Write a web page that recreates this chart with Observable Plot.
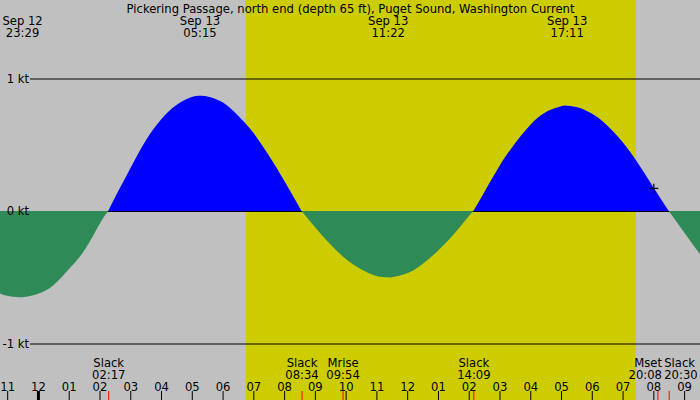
<!DOCTYPE html>
<html><head><meta charset="utf-8">
<script src="https://cdn.jsdelivr.net/npm/d3@7"></script>
<script src="https://cdn.jsdelivr.net/npm/@observablehq/plot@0.6"></script>
<style>body{margin:0;background:#c0c0c0}</style>
</head><body><div id="chart"></div>
<script>
const title = "Pickering Passage, north end (depth 65 ft), Puget Sound, Washington Current";
const curveTimes = ["09-12 22:45","09-12 23:00","09-12 23:29","09-13 00:00","09-13 00:30","09-13 01:00","09-13 01:30","09-13 02:00","09-13 02:17",
  "09-13 02:30","09-13 03:00","09-13 03:30","09-13 04:00","09-13 04:30","09-13 05:00","09-13 05:15","09-13 05:30","09-13 06:00","09-13 06:30",
  "09-13 07:00","09-13 07:30","09-13 08:00","09-13 08:34","09-13 09:00","09-13 09:30","09-13 10:00","09-13 10:30","09-13 11:00","09-13 11:22",
  "09-13 11:30","09-13 12:00","09-13 12:30","09-13 13:00","09-13 13:30","09-13 14:00","09-13 14:09","09-13 14:30","09-13 15:00","09-13 15:30",
  "09-13 16:00","09-13 16:30","09-13 17:00","09-13 17:11","09-13 17:30","09-13 18:00","09-13 18:30","09-13 19:00","09-13 19:30","09-13 20:00",
  "09-13 20:30","09-13 21:00","09-13 21:30","09-13 21:45"];
const curveValues = [-0.62,-0.64,-0.65,-0.625,-0.56,-0.44,-0.30,-0.10,0,
  0.10,0.32,0.53,0.69,0.80,0.86,0.87,0.865,0.82,0.72,
  0.59,0.42,0.23,0,-0.12,-0.25,-0.36,-0.44,-0.49,-0.50,
  -0.50,-0.47,-0.40,-0.30,-0.18,-0.04,0,0.14,0.34,0.51,
  0.65,0.745,0.79,0.795,0.785,0.735,0.645,0.52,0.36,0.18,
  0,-0.16,-0.32,-0.39];
const peakTimes = ["09-12 23:29","09-13 05:15","09-13 11:22","09-13 17:11"];
const peakLabels = ["Sep 12\n23:29","Sep 13\n05:15","Sep 13\n11:22","Sep 13\n17:11"];
const eventTimes = ["09-13 02:17","09-13 08:34","09-13 09:54","09-13 14:09","09-13 20:08","09-13 20:30"];
const eventLabels = ["Slack\n02:17","Slack\n08:34","Mrise\n09:54","Slack\n14:09","Mset\n20:08","Slack\n20:30"];
const hourTimes = ["09-12 23:00","09-13 00:00","09-13 01:00","09-13 02:00","09-13 03:00","09-13 04:00","09-13 05:00","09-13 06:00",
  "09-13 07:00","09-13 08:00","09-13 09:00","09-13 10:00","09-13 11:00","09-13 12:00","09-13 13:00","09-13 14:00","09-13 15:00",
  "09-13 16:00","09-13 17:00","09-13 18:00","09-13 19:00","09-13 20:00","09-13 21:00"];
const hourLabels = ["11","12","01","02","03","04","05","06","07","08","09","10","11","12","01","02","03","04","05","06","07","08","09"];
const daylight = ["09-13 06:45","09-13 19:26"];
const yTicks = [1, 0, -1];
const yLabels = ["1 kt", "0 kt", "-1 kt"];
const nowTime = "09-13 20:00";
const nowValue = 0.175;
const xDomain = ["09-12 22:46","09-13 21:31"];
const yDomain = [-1.4264, 1.5925];

const parse = d3.utcParse("%m-%d %H:%M");
const curve = curveTimes.map((t, i) => ({t: parse(t), v: curveValues[i]}));
const peaks = peakTimes.map((t, i) => ({t: parse(t), label: peakLabels[i]}));
const events = eventTimes.map((t, i) => ({t: parse(t), label: eventLabels[i]}));
const hours = hourTimes.map((t, i) => ({t: parse(t), label: hourLabels[i]}));

const plusSymbol = {
  draw(ctx, size) {
    const r = Math.sqrt(size / Math.PI);
    ctx.moveTo(-r, 0); ctx.lineTo(r, 0);
    ctx.moveTo(0, -r); ctx.lineTo(0, r);
  }
};

const fs = 11.6;
const lh = 12 / fs;
const chart = Plot.plot({
  width: 700, height: 400, margin: 0,
  x: {type: "utc", domain: xDomain.map(parse), axis: null},
  y: {domain: yDomain, axis: null},
  style: {background: "#c0c0c0", fontFamily: "DejaVu Sans", fontSize: fs + "px", color: "black"},
  marks: [
    Plot.rect([daylight], {x1: d => parse(d[0]), x2: d => parse(d[1]), fill: "#cccc00"}),
    Plot.ruleY(yTicks, {y: d => d, insetLeft: 30, stroke: "black"}),
    Plot.areaY(curve, {x: "t", y1: d => d.v >= 0 ? 0 : NaN, y2: d => d.v >= 0 ? d.v : NaN, fill: "#0000ff", curve: "natural", clip: true}),
    Plot.areaY(curve, {x: "t", y1: d => d.v <= 0 ? 0 : NaN, y2: d => d.v <= 0 ? d.v : NaN, fill: "#2e8b57", curve: "natural", clip: true}),
    Plot.dot([{t: parse(nowTime), v: nowValue}], {x: "t", y: "v", r: 4.5, symbol: plusSymbol, stroke: "black", strokeWidth: 1.2, fill: "none"}),
    Plot.text(yTicks, {y: d => d, text: (d, i) => yLabels[i], frameAnchor: "left", textAnchor: "end", dx: 28.5, lineAnchor: "middle", fontSize: fs}),
    Plot.text([title], {text: d => d, frameAnchor: "top", lineAnchor: "bottom", dy: 12, fontSize: fs}),
    Plot.text(peaks, {x: "t", text: "label", frameAnchor: "top", lineAnchor: "bottom", dy: 36, lineHeight: lh, fontSize: fs}),
    Plot.text(events.slice(0, 4), {x: "t", text: "label", frameAnchor: "bottom", lineAnchor: "bottom", dy: -22, lineHeight: lh, fontSize: fs}),
    Plot.text(events.slice(4, 5), {x: "t", text: "label", frameAnchor: "bottom", lineAnchor: "bottom", dy: -22, dx: 4, textAnchor: "end", lineHeight: lh, fontSize: fs}),
    Plot.text(events.slice(5), {x: "t", text: "label", frameAnchor: "bottom", lineAnchor: "bottom", dy: -22, dx: -5, textAnchor: "start", lineHeight: lh, fontSize: fs}),
    Plot.text(hours, {x: "t", text: "label", frameAnchor: "bottom", lineAnchor: "bottom", dy: -10, fontSize: fs}),
    Plot.ruleX(hours.filter(d => d.t.getUTCHours() !== 0), {x: "t", insetTop: 391, stroke: "black", strokeWidth: 1}),
    Plot.ruleX(hours.filter(d => d.t.getUTCHours() === 0), {x: "t", insetTop: 391, stroke: "black", strokeWidth: 3}),
    Plot.ruleX(events, {x: "t", insetTop: 391, stroke: "#ff0000", strokeWidth: 1})
  ]
});
document.getElementById("chart").appendChild(chart);
</script>
</body></html>
